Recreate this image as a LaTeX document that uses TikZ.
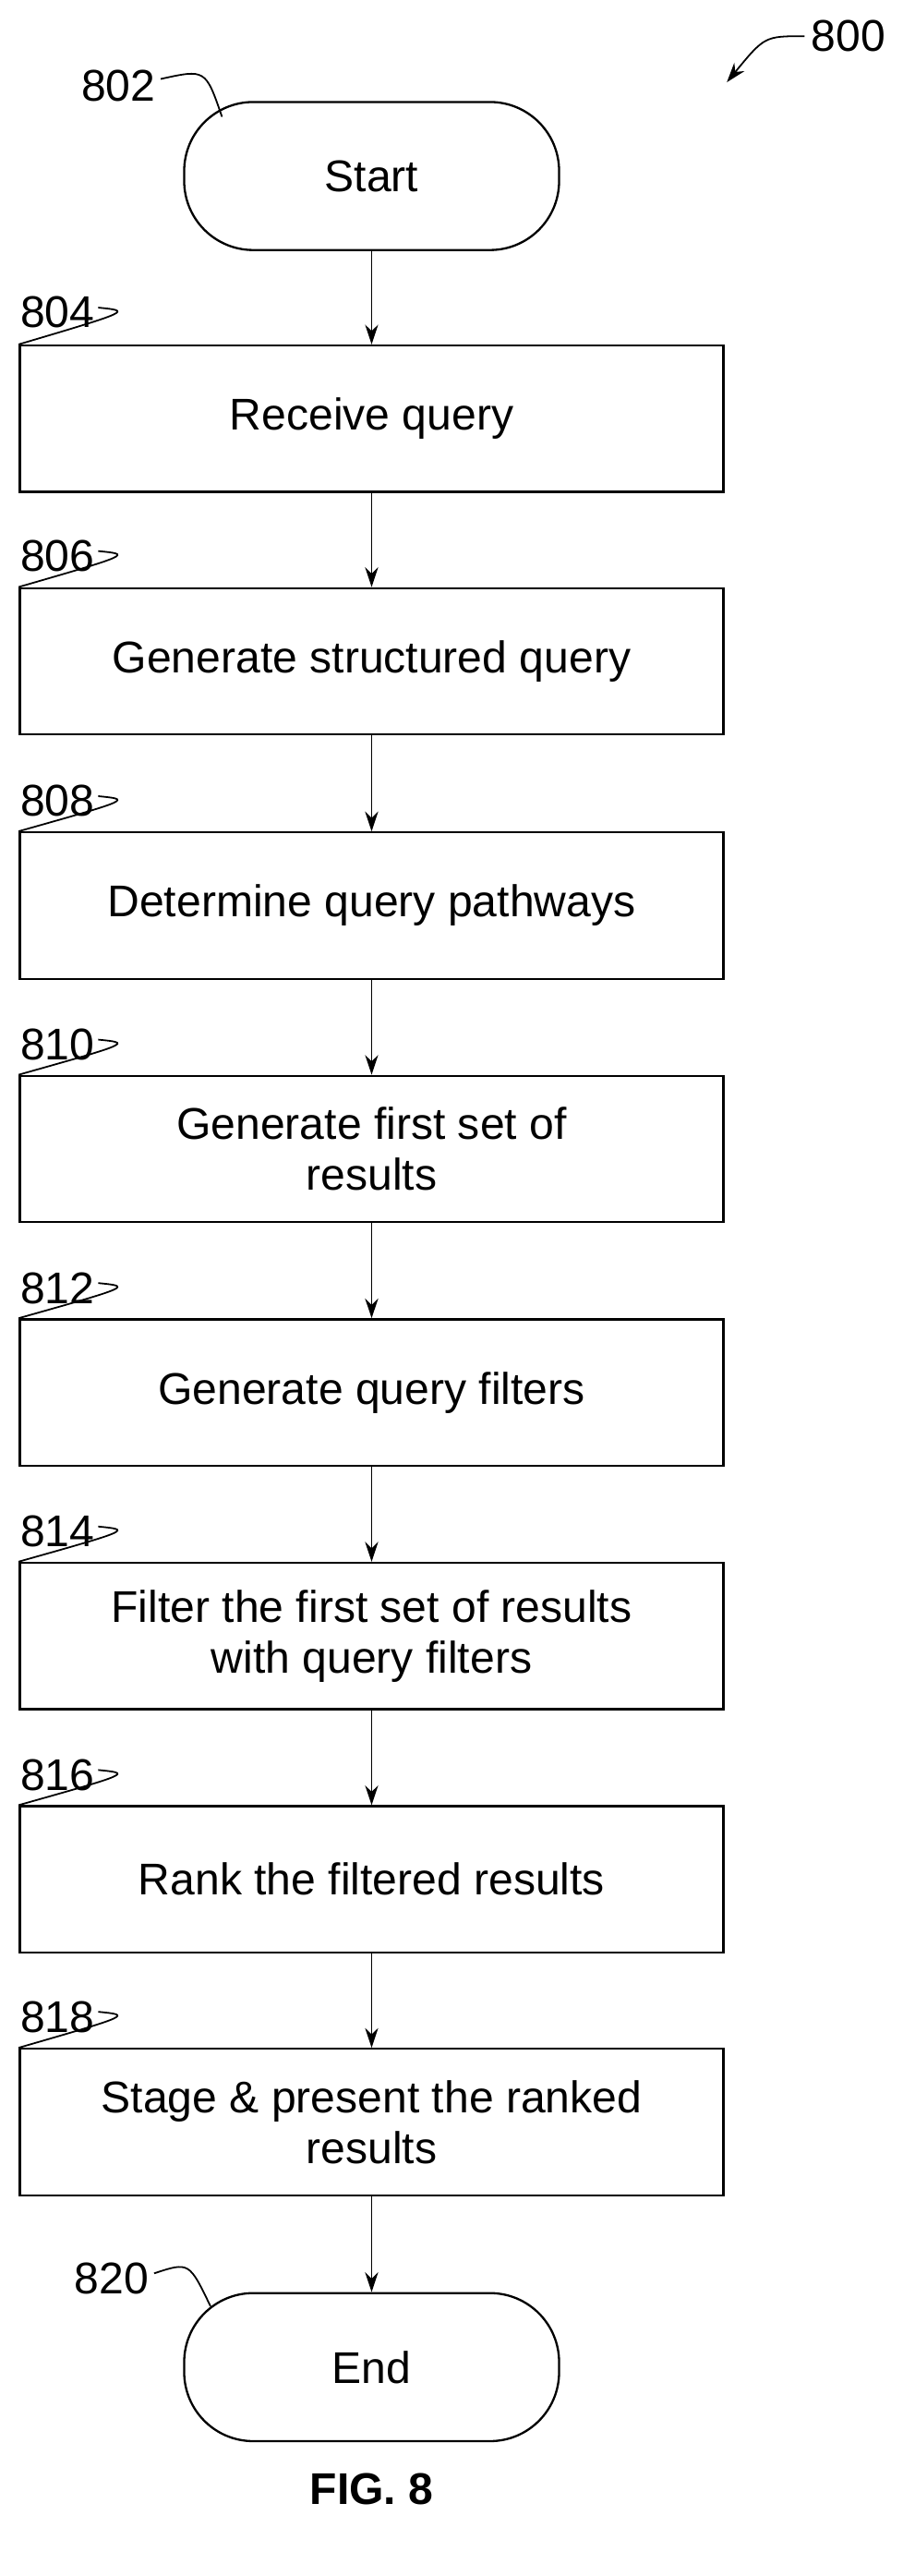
\documentclass[tikz,border=0pt]{standalone}
\usepackage{fontspec}
\setmainfont{Liberation Sans}
\usetikzlibrary{arrows.meta}
\begin{document}
\begin{tikzpicture}[x=1pt,y=1pt,
  box/.style={draw,line width=1.3pt,minimum width=428pt,minimum height=89pt,align=center,font=\fontsize{27}{31}\selectfont,inner sep=0pt},
  term/.style={draw,line width=1.3pt,minimum width=228pt,minimum height=90pt,rounded corners=42pt,font=\fontsize{27}{31}\selectfont},
  lab/.style={font=\fontsize{27}{31}\selectfont,inner sep=0pt},
  arr/.style={-{Stealth[length=12pt,width=8pt]},line width=1pt},
  lead/.style={line width=1pt}]
\useasboundingbox (0,0) rectangle (549,-1566);
\node[term] (s) at (226,-107) {Start};
\node[box] (b1) at (226,-254.5) {Receive query};
\node[box] (b2) at (226,-402) {Generate structured query};
\node[box] (b3) at (226,-550.5) {Determine query pathways};
\node[box] (b4) at (226,-698.5) {Generate first set of\\results};
\node[box] (b5) at (226,-846.5) {Generate query filters};
\node[box] (b6) at (226,-994.5) {Filter the first set of results\\with query filters};
\node[box] (b7) at (226,-1142.5) {Rank the filtered results};
\node[box] (b8) at (226,-1290) {Stage \& present the ranked\\results};
\node[term] (e) at (226,-1439) {End};
\draw[arr] (s) -- (b1);
\draw[arr] (b1) -- (b2);
\draw[arr] (b2) -- (b3);
\draw[arr] (b3) -- (b4);
\draw[arr] (b4) -- (b5);
\draw[arr] (b5) -- (b6);
\draw[arr] (b6) -- (b7);
\draw[arr] (b7) -- (b8);
\draw[arr] (b8) -- (e);
\node[lab] (l802) at (72,-52) {802};
\draw[lead] (l802.east) ++(3,4) coordinate (c802) .. controls (125,-42) .. (135,-71);
\foreach \n/\b/\y in {804/b1/190,806/b2/338,808/b3/487,810/b4/635,812/b5/783,814/b6/931,816/b7/1079,818/b8/1226}{
  \node[lab] (l\n) at (35,-\y) {\n};
  \draw[lead] (l\n.east) ++(2,3) .. controls (80,-\y+1) .. (\b.north west) ++(76,0);
}
\node[lab] (l820) at (68,-1385) {820};
\draw[lead] (l820.east) ++(3,3) .. controls (115,-1375) .. (128,-1402);
\node[lab] (l800) at (516,-22) {800};
\draw[arr] (l800.west) ++(-4,0) .. controls (465,-22) .. (442,-50);
\node[font=\bfseries\fontsize{27}{31}\selectfont] (fig) at (226,-1513) {FIG. 8};
\end{tikzpicture}
\end{document}
